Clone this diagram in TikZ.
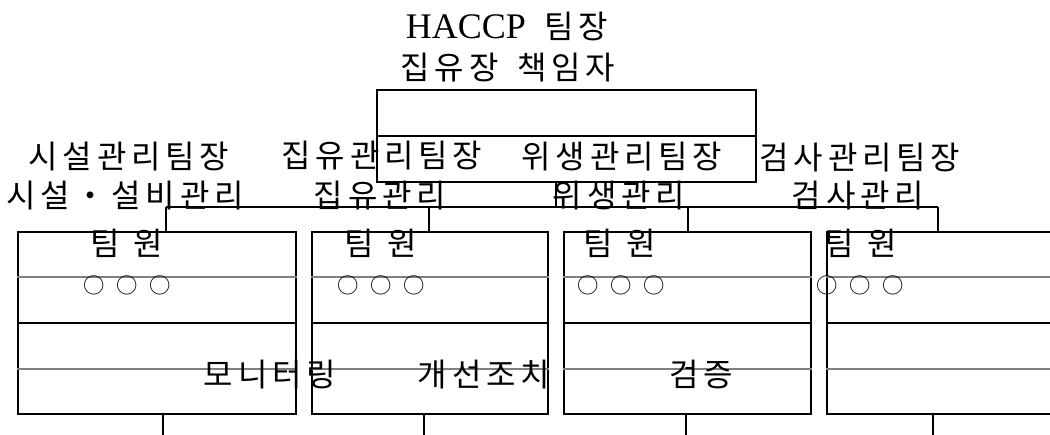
\documentclass[tikz,border=0pt]{standalone}
\usepackage{fontspec}
\setmainfont{Liberation Serif}
\newfontfamily\kr[LetterSpace=15]{Noto Sans CJK KR}
\newfontfamily\krtight{Noto Sans CJK KR}
\usetikzlibrary{calc}
\begin{document}
\begin{tikzpicture}[x=0.75pt,y=-0.75pt,
  lbl/.style={inner sep=0pt,anchor=center,font=\kr\fontsize{24pt}{28pt}\selectfont},
  rule/.style={line width=0.9pt,black},
  softrule/.style={line width=1.2pt,black!50},
  panel/.style={draw,rule,rectangle,inner sep=0pt,minimum height=136.5pt},
  chief/.style={draw,rule,rectangle,inner sep=0pt,minimum width=284.25pt,minimum height=69pt}]
\useasboundingbox (0,0) rectangle (1050,435);
\clip (0,0) rectangle (1050,435);

% team leader box with its dividing line
\node[chief] (head) at (566.5,136) {};
\draw[rule] (head.west) -- (head.east);

% four team panels, split into four rows
\node[panel,minimum width=208.5pt]  (p1) at (157,323) {};
\node[panel,minimum width=177pt]    (p2) at (430,323) {};
\node[panel,minimum width=185.25pt] (p3) at (687.5,323) {};
\node[panel,minimum width=182.25pt] (p4) at (948.5,323) {};
\foreach \p in {p1,p2,p3,p4}{
  \draw[softrule] ($(\p.north west)!0.25!(\p.south west)$) -- ($(\p.north east)!0.25!(\p.south east)$);
  \draw[rule]     ($(\p.north west)!0.5!(\p.south west)$)  -- ($(\p.north east)!0.5!(\p.south east)$);
  \draw[softrule] ($(\p.north west)!0.75!(\p.south west)$) -- ($(\p.north east)!0.75!(\p.south east)$);
}

% connectors from the leader down to the teams
\coordinate (hub) at (556,207);
\coordinate (t1) at (166,207);
\coordinate (t2) at (429,207);
\coordinate (t3) at (688,207);
\coordinate (t4) at (938,207);
\draw[rule] (head.south -| hub) -- (hub);
\draw[rule] (t1) -- (t4);
\foreach \t/\p in {t1/p1,t2/p2,t3/p3,t4/p4}
  \draw[rule] (\t) -- (\t |- \p.north);

% stubs below the panels
\coordinate (e1) at (163,435);
\coordinate (e2) at (424,435);
\coordinate (e3) at (686,435);
\coordinate (e4) at (933,435);
\foreach \e/\p in {e1/p1,e2/p2,e3/p3,e4/p4}
  \draw[rule] (\p.south -| \e) -- (\e);

% labels
\node[lbl] (lead1) at (507,26) {{\rmfamily\fontsize{27pt}{30pt}\selectfont HACCP}\hspace{14pt}팀장};
\node[lbl] (lead2) at (508,68) {집유장\hspace{14pt}책임자};

\node[lbl] (m1) at (129,157) {시설관리팀장};
\node[lbl] (m2) at (382,156) {집유관리팀장};
\node[lbl] (m3) at (622,157) {위생관리팀장};
\node[lbl] (m4) at (860,158) {검사관리팀장};

\node[lbl] (r1) at (125,196) {시설・설비관리};
\node[lbl] (r2) at (380,196) {집유관리};
\node[lbl] (r3) at (619,196) {위생관리};
\node[lbl] (r4) at (858,196) {검사관리};

\foreach \n/\x in {1/127,2/381,3/620,4/861}
  \node[lbl] (crew\n) at (\x,243) {팀\hspace{10pt}원};
\foreach \n/\x in {1/127,2/381,3/621,4/860}
  \node[lbl,font=\krtight\fontsize{16pt}{18pt}\selectfont] (names\n) at (\x,285) {○\hspace{9pt}○\hspace{9pt}○};

\node[lbl] (mon) at (270,375) {모니터링};
\node[lbl] (fix) at (484,375) {개선조치};
\node[lbl] (ver) at (701,374) {검증};
\end{tikzpicture}
\end{document}
